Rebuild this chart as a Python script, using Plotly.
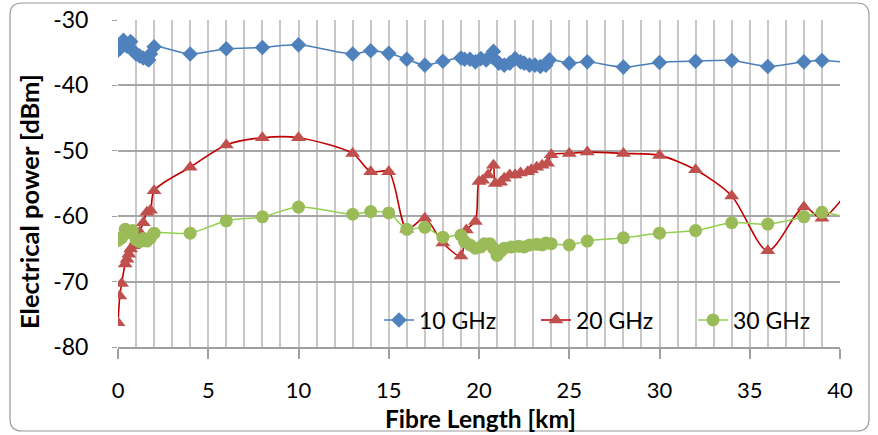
import plotly.graph_objects as go

# ---- data ----
x10 = [0, 0.1, 0.3, 0.5, 0.7, 0.8, 1.0, 1.2, 1.4, 1.6, 1.7, 1.8, 2, 4, 6, 8, 10, 13, 14, 15, 16, 17, 18, 19,
       19.2, 19.5, 19.8, 20.1, 20.4, 20.7, 20.8, 21.1, 21.4, 21.7, 22.0, 22.3, 22.5, 22.8, 23.1, 23.4, 23.7, 23.9,
       25, 26, 28, 30, 32, 34, 36, 38, 39, 42]
y10 = [-34.6, -34.4, -33.1, -34.0, -33.3, -34.6, -35.2, -35.5, -35.8, -35.9, -36.1, -35.2, -34.1,
       -35.2, -34.4, -34.2, -33.8, -35.2, -34.7, -35.1, -36.0, -36.9, -36.3, -35.8,
       -36.0, -36.0, -36.4, -35.9, -36.1, -35.6, -34.8, -36.6, -36.9, -36.6, -35.9, -36.4, -36.6, -36.9, -36.9,
       -37.1, -36.9, -36.1,
       -36.6, -36.4, -37.2, -36.5, -36.3, -36.2, -37.1, -36.4, -36.2, -37.0]

x20 = [0, 0.1, 0.2, 0.4, 0.5, 0.6, 0.7, 0.85, 1.0, 1.2, 1.4, 1.6, 1.8, 2, 4, 6, 8, 10, 13, 14, 15, 16, 17, 18, 19,
       19.3, 19.8, 20.0, 20.2, 20.5, 20.8, 20.9, 21.2, 21.4, 21.7, 22.0, 22.3, 22.7, 22.9, 23.2, 23.5, 23.8, 24.0,
       25, 26, 28, 30, 32, 34, 36, 38, 39, 41]
y20 = [-76.3, -72.2, -70.3, -67.3, -66.6, -65.8, -65.0, -64.5, -63.8, -62.4, -61.0, -59.4, -59.1, -56.1,
       -52.5, -49.1, -48.0, -48.0, -50.4, -53.2, -53.2, -62.0, -60.3, -64.1, -66.1,
       -62.1, -60.8, -54.7, -54.5, -53.7, -52.2, -55.0, -54.8, -54.2, -53.7, -53.7, -53.4, -53.2, -52.9, -52.5,
       -52.2, -51.9, -50.6,
       -50.4, -50.2, -50.4, -50.7, -52.9, -56.9, -65.3, -58.6, -60.3, -54.0]

x30 = [0, 0.2, 0.4, 0.6, 0.8, 1.0, 1.2, 1.4, 1.6, 1.8, 2, 4, 6, 8, 10, 13, 14, 15, 16, 17, 18, 19,
       19.2, 19.5, 19.8, 20.1, 20.3, 20.6, 20.8, 21.0, 21.2, 21.4, 21.8, 22.2, 22.5, 22.8, 23.2, 23.5, 23.7, 24.0,
       25, 26, 28, 30, 32, 34, 36, 38, 39, 42]
y30 = [-63.7, -63.3, -62.0, -62.5, -62.2, -63.6, -63.9, -63.4, -63.8, -63.3, -62.6,
       -62.6, -60.7, -60.1, -58.6, -59.7, -59.3, -59.5, -62.0, -61.7, -63.2, -62.9,
       -63.9, -64.4, -64.9, -64.7, -64.2, -64.2, -64.9, -66.0, -65.4, -64.9, -64.7, -64.6, -64.7, -64.4, -64.3,
       -64.4, -64.1, -64.2,
       -64.4, -63.8, -63.3, -62.6, -62.2, -61.0, -61.2, -60.1, -59.4, -61.6]

names = ["10 GHz", "20 GHz", "30 GHz"]
x_ticks = [0, 5, 10, 15, 20, 25, 30, 35, 40]
y_ticks = [-80, -70, -60, -50, -40, -30]
x_title = "Fibre Length [km]"
y_title = "Electrical power [dBm]"

FONT = "Lato"
W, H = 878, 435
L, R, T, B = 118, 38, 20, 88

fig = go.Figure()
fig.add_trace(go.Scatter(x=x10, y=y10, name=names[0], mode="lines+markers",
                         line=dict(color="#4A7EBB", width=1.5, shape="spline", smoothing=0.8),
                         marker=dict(symbol="diamond", size=12, color="#4F81BD")))
fig.add_trace(go.Scatter(x=x20, y=y20, name=names[1], mode="lines+markers",
                         line=dict(color="#C00000", width=1.6, shape="spline", smoothing=0.8),
                         marker=dict(symbol="triangle-up", size=13, color="#C0504D")))
fig.add_trace(go.Scatter(x=x30, y=y30, name=names[2], mode="lines+markers",
                         line=dict(color="#92D050", width=1.5, shape="spline", smoothing=0.8),
                         marker=dict(symbol="circle", size=13, color="#9BBB59")))

fig.update_xaxes(range=[0, 40], tickvals=x_ticks, ticktext=[str(v) for v in x_ticks],
                 showgrid=True, gridcolor="#C8C8C8", gridwidth=1.5,
                 minor=dict(dtick=1, showgrid=True, gridcolor="#C8C8C8", gridwidth=1.5, ticks=""),
                 showline=True, linecolor="#A0A0A0", linewidth=1.5,
                 ticks="outside", ticklen=10, tickcolor="#A0A0A0", tickwidth=1.5,
                 ticklabelstandoff=13, automargin=False,
                 tickfont=dict(family=FONT, size=22, color="#000000"),
                 zeroline=False)
fig.update_yaxes(range=[-80, -30], tickvals=y_ticks, ticktext=[str(v) for v in y_ticks],
                 showgrid=True, gridcolor="#A6A6A6", gridwidth=1.5,
                 showline=False,
                 ticks="outside", ticklen=5, tickcolor="#A0A0A0", tickwidth=1,
                 ticklabelstandoff=19, automargin=False,
                 tickfont=dict(family=FONT, size=23, color="#000000"),
                 zeroline=False)

pw, ph = W - L - R, H - T - B
def px(xp):
    return (xp - L) / pw
def py(yp):
    return (H - B - yp) / ph

# axis titles
fig.add_annotation(text=f"<b>{x_title}</b>", xref="paper", yref="paper", x=px(480), y=py(418),
                   xanchor="center", yanchor="middle", showarrow=False,
                   font=dict(family=FONT, size=24.5, color="#000000"))
fig.add_annotation(text=f"<b>{y_title}</b>", xref="paper", yref="paper", x=px(29), y=py(202),
                   xanchor="center", yanchor="middle", showarrow=False, textangle=-90,
                   font=dict(family=FONT, size=25.5, color="#000000"))

# rounded chart border in paper coords
x0, x1, y0, y1, r = 10, 869, 3, 431, 12
path = (f"M {px(x0+r)},{py(y0)} L {px(x1-r)},{py(y0)} Q {px(x1)},{py(y0)} {px(x1)},{py(y0+r)} "
        f"L {px(x1)},{py(y1-r)} Q {px(x1)},{py(y1)} {px(x1-r)},{py(y1)} "
        f"L {px(x0+r)},{py(y1)} Q {px(x0)},{py(y1)} {px(x0)},{py(y1-r)} "
        f"L {px(x0)},{py(y0+r)} Q {px(x0)},{py(y0)} {px(x0+r)},{py(y0)} Z")
fig.add_shape(type="path", path=path, xref="paper", yref="paper",
              line=dict(color="#9A9A9A", width=1.2), layer="above")

fig.update_layout(
    width=W, height=H,
    margin=dict(l=L, r=R, t=T, b=B),
    paper_bgcolor="white", plot_bgcolor="white",
    font=dict(family=FONT),
    legend=dict(orientation="h", x=px(379), xanchor="left", y=py(320), yanchor="middle",
                bgcolor="rgba(0,0,0,0)", font=dict(family=FONT, size=23, color="#000000"),
                entrywidth=112, itemwidth=30, tracegroupgap=0),
    showlegend=True,
)

fig.write_html("out.html")
